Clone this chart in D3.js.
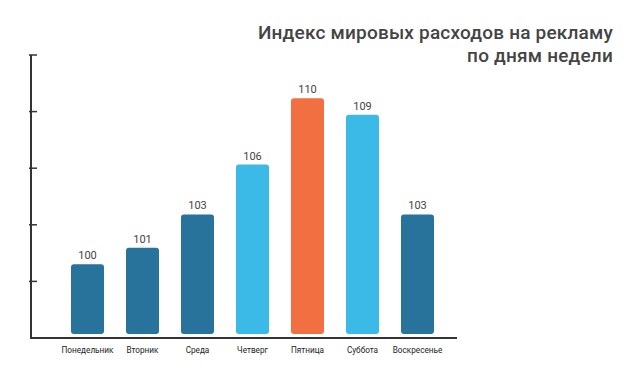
<!DOCTYPE html>
<html>
<head>
<meta charset="utf-8">
<script src="https://cdn.jsdelivr.net/npm/d3@7"></script>
<style>
  body { margin: 0; background: #fff; }
  text { font-family: Roboto, "Noto Sans", sans-serif; }
</style>
</head>
<body>
<div id="chart"></div>
<script>
// данные
var days = ["Понедельник", "Вторник", "Среда", "Четверг", "Пятница", "Суббота", "Воскресенье"];
var values = [100, 101, 103, 106, 110, 109, 103];
var barColors = ["#28739c", "#28739c", "#28739c", "#3bb9e7", "#f26f42", "#3bb9e7", "#28739c"];
var titleLines = ["Индекс мировых расходов на рекламу", "по дням недели"];
var tickSteps = [1, 2, 3, 4, 5];

var W = 644, H = 375;
var svg = d3.select("#chart").append("svg").attr("width", W).attr("height", H);

var x = d3.scaleBand()
  .domain(days)
  .range([60, 445])
  .paddingInner(0.4)
  .paddingOuter(0.2);

var y = d3.scaleLinear()
  .domain([95.8, 112.6])
  .range([334, 55]);

// decorative ticks on the left axis, no labels
var tickScale = d3.scaleLinear().domain([0, 5]).range([338, 55]);

// bars
svg.selectAll("rect.bar")
  .data(values)
  .enter().append("rect")
  .attr("class", "bar")
  .attr("x", function(d, i) { return x(days[i]); })
  .attr("y", function(d) { return y(d); })
  .attr("width", x.bandwidth())
  .attr("height", function(d) { return y.range()[0] - y(d); })
  .attr("rx", 3).attr("ry", 3)
  .attr("fill", function(d, i) { return barColors[i]; });

// value labels
svg.selectAll("text.val")
  .data(values)
  .enter().append("text")
  .attr("class", "val")
  .attr("x", function(d, i) { return x(days[i]) + x.bandwidth() / 2; })
  .attr("y", function(d) { return y(d) - 5; })
  .attr("text-anchor", "middle")
  .attr("font-size", 11)
  .attr("fill", "#444")
  .text(function(d) { return d; });

// axes
var axisColor = "#333";
svg.append("line")
  .attr("x1", 31).attr("x2", 31)
  .attr("y1", tickScale(5)).attr("y2", tickScale(0) + 1)
  .attr("stroke", axisColor).attr("stroke-width", 2);

svg.append("line")
  .attr("x1", 30).attr("x2", 457)
  .attr("y1", tickScale(0)).attr("y2", tickScale(0))
  .attr("stroke", axisColor).attr("stroke-width", 2);

svg.selectAll("line.tick")
  .data(tickSteps)
  .enter().append("line")
  .attr("class", "tick")
  .attr("x1", 29).attr("x2", 37)
  .attr("y1", function(d) { return tickScale(d); })
  .attr("y2", function(d) { return tickScale(d); })
  .attr("stroke", axisColor).attr("stroke-width", 1.5);

// category labels
svg.selectAll("text.cat")
  .data(days)
  .enter().append("text")
  .attr("class", "cat")
  .attr("x", function(d) { return x(d) + x.bandwidth() / 2; })
  .attr("y", 353)
  .attr("text-anchor", "middle")
  .attr("font-size", 8.2)
  .attr("fill", "#222")
  .text(function(d) { return d; });

// title
svg.selectAll("text.title")
  .data(titleLines)
  .enter().append("text")
  .attr("class", "title")
  .attr("x", 613)
  .attr("y", function(d, i) { return 39 + i * 23; })
  .attr("text-anchor", "end")
  .attr("font-size", 19)
  .attr("font-weight", 500)
  .attr("letter-spacing", 0.2)
  .attr("fill", "#444")
  .text(function(d) { return d; });
</script>
</body>
</html>
